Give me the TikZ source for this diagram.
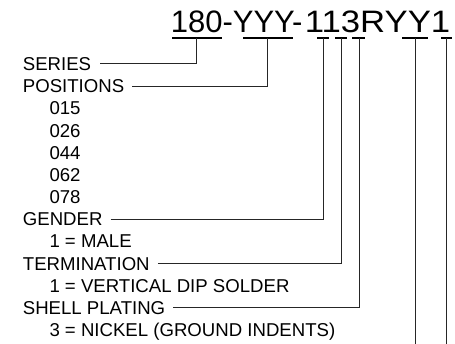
\documentclass[tikz,border=0pt]{standalone}
\usepackage{fontspec}
\setmainfont{Liberation Sans}
\newfontfamily\titlefam{Liberation Sans}
\tikzset{
  lbl/.style={anchor=south west, inner sep=0pt, text height=13.3pt, text depth=0pt, font=\fontsize{18.6pt}{22pt}\selectfont},
  conn/.style={draw=black!85, line width=0.8pt},
  uline/.style={draw=black, line width=2.3pt},
}
\begin{document}
\begin{tikzpicture}[x=1pt,y=-1pt]
\useasboundingbox (0,0) rectangle (455,344);
% title
\node[anchor=base west, inner sep=0pt, font=\titlefam\fontsize{31pt}{36pt}\selectfont] (title) at (170.6,32.3) {180-YYY-\kern2.5pt\scalebox{1.12}[1]{113RYY1}};
% underline tap points
\coordinate (u180) at (196.7,38.3);
\coordinate (uYYY) at (267.5,38.3);
\coordinate (uG) at (323.3,38.3);
\coordinate (uT) at (341.7,38.3);
\coordinate (uS) at (359,38.3);
\coordinate (uYY) at (415,38.3);
\coordinate (uL) at (446.7,38.3);
\draw[uline] (172,38.3) -- (222,38.3);
\draw[uline] (243,38.3) -- (293,38.3);
\draw[uline] (317,38.3) -- (329,38.3);
\draw[uline] (335,38.3) -- (347,38.3);
\draw[uline] (352,38.3) -- (365,38.3);
\draw[uline] (402,38.3) -- (428,38.3);
\draw[uline] (441,38.3) -- (452,38.3);
% labels
\def\dy{22.17}
\node[lbl] (series) at (22.7,70.7) {SERIES};
\node[lbl] (positions) at (22.7,70.7+\dy) {POSITIONS};
\node[lbl] (p1) at (49.3,70.7+2*\dy) {015};
\node[lbl] (p2) at (49.3,70.7+3*\dy) {026};
\node[lbl] (p3) at (49.3,70.7+4*\dy) {044};
\node[lbl] (p4) at (49.3,70.7+5*\dy) {062};
\node[lbl] (p5) at (49.3,70.7+6*\dy) {078};
\node[lbl] (gender) at (22.7,70.7+7*\dy) {GENDER};
\node[lbl] (g1) at (49.3,70.7+8*\dy) {1 = MALE};
\node[lbl] (term) at (22.7,70.7+9*\dy) {TERMINATION};
\node[lbl] (t1) at (49.3,70.7+10*\dy) {1 = VERTICAL DIP SOLDER};
\node[lbl] (shell) at (22.7,70.7+11*\dy) {SHELL PLATING};
\node[lbl] (s1) at (49.3,70.7+12*\dy) {3 = NICKEL (GROUND INDENTS)};
% connectors
\draw[conn] ([xshift=9pt]series.east) -| (u180);
\draw[conn] ([xshift=8pt]positions.east) -| (uYYY);
\draw[conn] ([xshift=8pt]gender.east) -| (uG);
\draw[conn] ([xshift=8pt]term.east) -| (uT);
\draw[conn] ([xshift=8pt]shell.east) -| (uS);
\coordinate (eYY) at (415,344);
\coordinate (eL) at (446.7,344);
\draw[conn] (uYY) -- (eYY);
\draw[conn] (uL) -- (eL);
\end{tikzpicture}
\end{document}
